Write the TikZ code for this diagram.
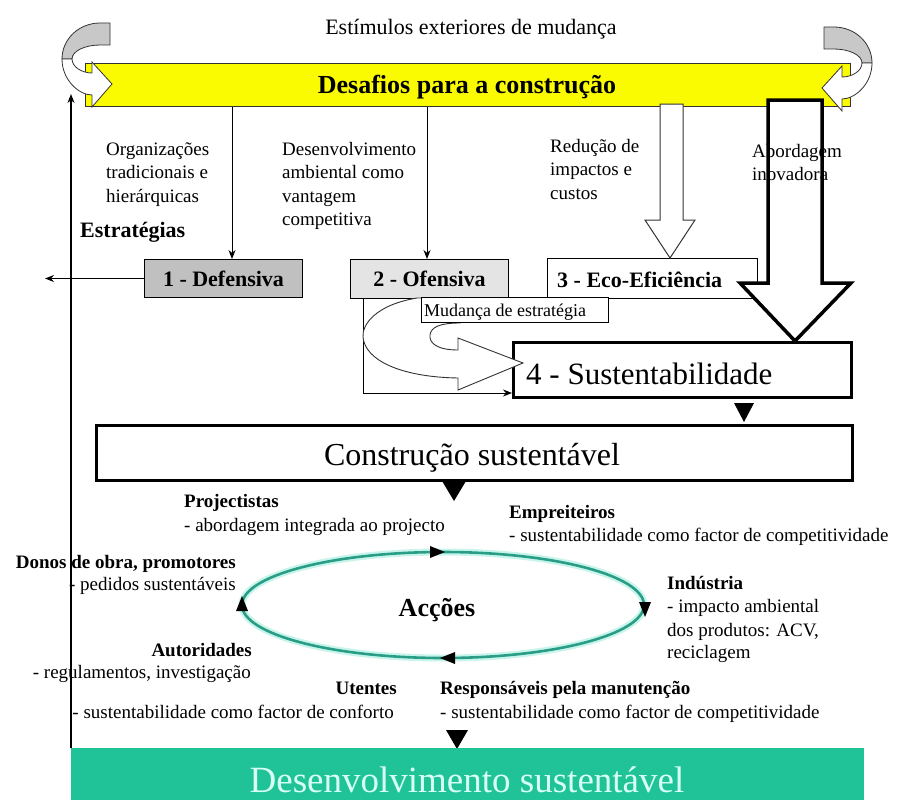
\documentclass[tikz,border=0pt]{standalone}
\usepackage{fontspec}
\setmainfont{Liberation Serif}
\usetikzlibrary{arrows.meta}
\newcommand\myfs[1]{\fontsize{#1}{#1}\selectfont}
\definecolor{ybar}{RGB}{250,250,0}
\definecolor{gdef}{RGB}{192,192,192}
\definecolor{gofe}{RGB}{228,228,228}
\definecolor{gband}{RGB}{200,200,200}
\definecolor{teal1}{RGB}{42,157,134}
\definecolor{glow}{RGB}{200,245,235}
\definecolor{greenbox}{RGB}{32,195,152}
\definecolor{greentxt}{RGB}{215,255,245}
\begin{document}
\begin{tikzpicture}[x=1pt,y=-1pt,line join=miter,
  txt/.style={inner sep=0pt,font=\myfs{19}},
  btxt/.style={inner sep=0pt,font=\myfs{19}\bfseries},
  arr/.style={-{Stealth[length=9pt,width=7pt]},line width=1pt},
  boxthin/.style={draw,line width=1pt,inner sep=0pt,anchor=north west},
  boxthick/.style={draw,line width=3pt,inner sep=0pt,anchor=north west,fill=white},
  ribbon/.style={line width=0.8pt,draw=black!80}]
\useasboundingbox[fill=white] (0,0) rectangle (901,800);

% ---------- top ----------
\node[inner sep=0pt,font=\myfs{22},anchor=base] (stim) at (471,35) {Estímulos exteriores de mudança};
\node[draw=black!80,fill=ybar,line width=1pt,inner sep=0pt,anchor=north west,minimum width=765pt,minimum height=43pt] (bar) at (85,63) {};
\node[inner sep=0pt,font=\myfs{26}\bfseries,anchor=base] (desaf) at (467,93) {Desafios para a construção};

% left curved arrow
\filldraw[ribbon,fill=gband] (110,23) -- (100,23) .. controls (79,23) and (62,39) .. (62,59) -- (72,59) .. controls (72,51) and (85,45) .. (100,45) -- (110,45) -- cycle;
\filldraw[ribbon,fill=white] (62,59) .. controls (62,80) and (79,95) .. (92,95) -- (92,107) -- (112,84) -- (92,62) -- (92,73) .. controls (82,73) and (72,67) .. (72,59) -- cycle;
% right curved arrow
\begin{scope}[shift={(934,4)},xscale=-1]
\filldraw[ribbon,fill=gband] (110,23) -- (100,23) .. controls (79,23) and (62,39) .. (62,59) -- (72,59) .. controls (72,51) and (85,45) .. (100,45) -- (110,45) -- cycle;
\filldraw[ribbon,fill=white] (62,59) .. controls (62,80) and (79,95) .. (92,95) -- (92,107) -- (112,84) -- (92,62) -- (92,73) .. controls (82,73) and (72,67) .. (72,59) -- cycle;
\end{scope}

% side texts
\node[txt,anchor=base west] (o1) at (106,155) {Organizações};
\node[txt,anchor=base west] (o2) at (106,178.5) {tradicionais e};
\node[txt,anchor=base west] (o3) at (106,202) {hierárquicas};
\node[txt,anchor=base west] (d1) at (282,155) {Desenvolvimento};
\node[txt,anchor=base west] (d2) at (282,178.5) {ambiental como};
\node[txt,anchor=base west] (d3) at (282,202) {vantagem};
\node[txt,anchor=base west] (d4) at (282,225.5) {competitiva};
\node[txt,anchor=base west] (r1) at (550,152) {Redução de};
\node[txt,anchor=base west] (r2) at (550,175.5) {impactos e};
\node[txt,anchor=base west] (r3) at (550,199) {custos};
\node[inner sep=0pt,font=\myfs{22}\bfseries,anchor=base west] (estr) at (80,237) {Estratégias};

% strategy boxes
\node[boxthin,fill=gdef,minimum width=158pt,minimum height=38pt,font=\myfs{22}\bfseries] (def) at (144,259) {1 - Defensiva};
\node[boxthin,fill=gofe,minimum width=158pt,minimum height=39pt,font=\myfs{22}\bfseries] (ofe) at (350,259) {2 - Ofensiva};
\node[boxthin,fill=white,minimum width=210pt,minimum height=40pt] (eco) at (547,258) {};
\node[inner sep=0pt,font=\myfs{22}\bfseries,anchor=base west] (ecot) at (557,287) {3 - Eco-Eficiência};

% arrows from bar
\coordinate (a1) at (232,259);
\coordinate (a2) at (427,259);
\draw[arr] (a1 |- bar.south) -- (a1);
\draw[arr] (a2 |- bar.south) -- (a2);
\coordinate (sl) at (45,278);
\draw[arr] (def.west) -- (def.west -| sl);

% hollow arrow (eco-efficiency)
\filldraw[line width=1pt,draw=black!80,fill=white] (660,104) -- (683,104) -- (683,220) -- (695,220) -- (670,258) -- (645,220) -- (660,220) -- cycle;

% big black arrow (innovation)
\fill[white] (768,100) -- (822,100) -- (822,283) -- (851,283) -- (795,341) -- (740,283) -- (768,283) -- cycle;
\node[txt,anchor=base west] (ab1) at (752,157) {Abordagem};
\node[txt,anchor=base west] (ab2) at (752,180) {inovadora};
\draw[line width=3.5pt] (768,100) -- (822,100) -- (822,283) -- (851,283) -- (795,341) -- (740,283) -- (768,283) -- cycle;

% sustainability box
\node[boxthick,minimum width=338pt,minimum height=55pt] (sus) at (512,341) {};
\node[inner sep=0pt,font=\myfs{31},anchor=base west] (sust) at (526,384) {4 - Sustentabilidade};

% thin connector from offensive
\coordinate (lc) at (363,393);
\draw[arr] (lc |- ofe.south) -- (lc) -- (lc -| sus.west);

% curved hollow arrow
\filldraw[line width=0.9pt,draw=black!80,fill=white] (480,298) -- (417,298) .. controls (375,305) and (362,325) .. (363,337) .. controls (365,360) and (400,377) .. (458,378) -- (458,390) -- (523,363) -- (458,338) -- (458,350) .. controls (437,350) and (429,343) .. (430,335) .. controls (431,327) and (440,323) .. (460,323) -- cycle;
\node[boxthin,fill=white,minimum width=187pt,minimum height=25pt] (mud) at (421,297) {};
\node[inner sep=0pt,font=\myfs{18},anchor=base west] (mudt) at (424,316) {Mudança de estratégia};

% triangle to construction box
\fill (734,403) -- (754,403) -- (744,422) -- cycle;

% construction box
\node[boxthick,minimum width=756pt,minimum height=55pt] (con) at (95,424) {};
\node[inner sep=0pt,font=\myfs{32},anchor=base] (cont) at (472,465) {Construção sustentável};
\fill (442,481) -- (466,481) -- (454,501) -- cycle;

% ---------- actions cycle ----------
\draw[glow,line width=7pt] (443,605) ellipse [x radius=201pt,y radius=53pt];
\draw[teal1,line width=2.6pt] (443,605) ellipse [x radius=201pt,y radius=53pt];
\fill (430,546) -- (445,552) -- (430,558) -- cycle;
\fill (639,602) -- (645,617) -- (651,602) -- cycle;
\fill (455,652) -- (440,658) -- (455,664) -- cycle;
\fill (236,611) -- (242,596) -- (248,611) -- cycle;
\node[inner sep=0pt,font=\myfs{26}\bfseries,anchor=base] (acc) at (437,616) {Acções};

\node[btxt,anchor=base west] (proj) at (184,507) {Projectistas};
\node[txt,anchor=base west] (proj2) at (184,531) {- abordagem integrada ao projecto};
\node[btxt,anchor=base west] (emp) at (509,518) {Empreiteiros};
\node[txt,anchor=base west] (emp2) at (509,541) {- sustentabilidade como factor de competitividade};
\node[btxt,anchor=base east] (don) at (236,568) {Donos de obra, promotores};
\node[txt,anchor=base east] (don2) at (236,590) {- pedidos sustentáveis};
\node[btxt,anchor=base west] (ind) at (667,589) {Indústria};
\node[txt,anchor=base west] (ind2) at (667,612) {- impacto ambiental};
\node[txt,anchor=base west] (ind3) at (667,636) {dos produtos: ACV,};
\node[txt,anchor=base west] (ind4) at (667,658) {reciclagem};
\node[btxt,anchor=base east] (aut) at (252,656) {Autoridades};
\node[txt,anchor=base east] (aut2) at (251,678) {- regulamentos, investigação};
\node[btxt,anchor=base east] (ute) at (397,694) {Utentes};
\node[txt,anchor=base east] (ute2) at (394,718) {- sustentabilidade como factor de conforto};
\node[btxt,anchor=base west] (res) at (440,694) {Responsáveis pela manutenção};
\node[txt,anchor=base west] (res2) at (440,718) {- sustentabilidade como factor de competitividade};

% ---------- bottom ----------
\fill (446,730) -- (468,730) -- (457,749) -- cycle;
\node[fill=greenbox,inner sep=0pt,anchor=north west,minimum width=793pt,minimum height=52pt] (des) at (71,748) {};
\node[inner sep=0pt,font=\myfs{37},text=greentxt,anchor=base] (dest) at (467,792) {Desenvolvimento sustentável};

% left feedback line
\coordinate (vt) at (71,94);
\draw[arr,line width=1.3pt] (des.north west) -- (vt);
\end{tikzpicture}
\end{document}
